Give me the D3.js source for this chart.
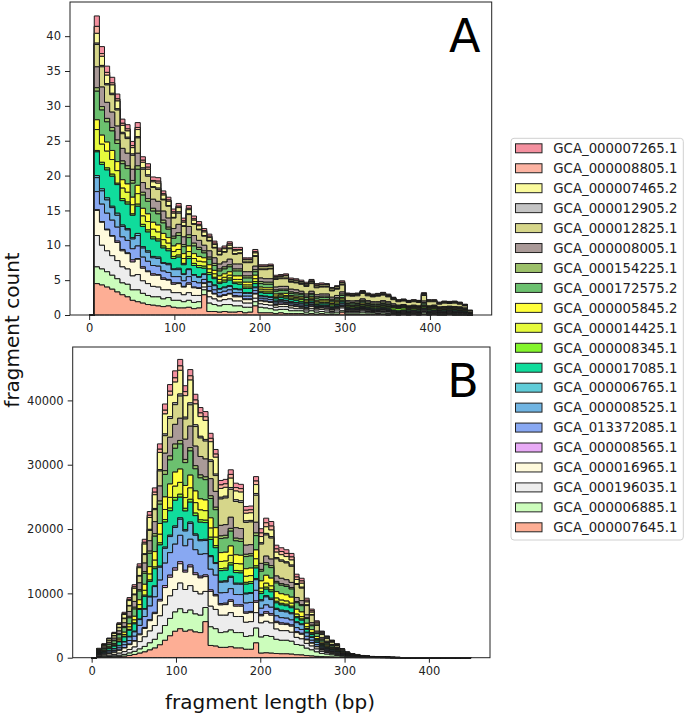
<!DOCTYPE html>
<html>
<head>
<meta charset="utf-8">
<script src="https://cdn.jsdelivr.net/npm/d3@7"></script>
<style>
body { margin: 0; background: #fff; }
svg { font-family: "DejaVu Sans", sans-serif; }
</style>
</head>
<body>
<div id="chart"></div>
<script>
// legend order = top of the stack first
var names = ["GCA_000007265.1", "GCA_000008805.1", "GCA_000007465.2", "GCA_000012905.2",
    "GCA_000012825.1", "GCA_000008005.1", "GCA_000154225.1", "GCA_000172575.2",
    "GCA_000005845.2", "GCA_000014425.1", "GCA_000008345.1", "GCA_000017085.1",
    "GCA_000006765.1", "GCA_000008525.1", "GCA_013372085.1", "GCA_000008565.1",
    "GCA_000016965.1", "GCA_000196035.1", "GCA_000006885.1", "GCA_000007645.1"];

var colors = ["#f4909f", "#fcb3a2", "#fafa9c", "#c4c4c4", "#d6d68a", "#aa9a98",
    "#9cc06a", "#6cc06f", "#ffff3a", "#e6fa3c", "#84f52c", "#10dc9c",
    "#60ccd8", "#70b4e2", "#88a8f2", "#e8aaf6", "#fffadc", "#ededed",
    "#ccfdbc", "#fdae95"];

// histogram bins: 6 bp wide, 0..450
var binWidth = 6;
var binEdges = d3.range(0, 450 + binWidth, binWidth);

var xTicks = [0, 100, 200, 300, 400];
var yTicksA = [0, 5, 10, 15, 20, 25, 30, 35, 40];
var yTicksB = [0, 10000, 20000, 30000, 40000];

// ---- panel A: fragment counts per bin ----
var a7265 = [0,
 1.5,1.0,0.9,0.8,0.7,0.6,0.6,0.6,0.7,0.5, 0.5,0.5,0.5,0.4,0.4,0.4,0.4,0.4,0.4,0.4,
 0.4,0.3,0.3,0.3,0.3,0.3,0.3,0.3,0.3,0.2, 0.2,0.3,0.2,0.2,0.2,0.2,0.2,0.2,0.2,0.2,
 0.2,0.2,0.2,0.2,0.2,0.1,0.1,0.1,0.2,0.1, 0.1,0.1,0.1,0.1,0.1,0.1,0.1,0.1,0.1,0.1,
 0.1,0.1,0.1,0.1,0.1,0.1,0.1,0.1,0.1,0.1, 0.1,0.1,0.05,0.05];
var a8805 = [0,
 1.0,0.4,0.4,0.3,0.3,0.3,0.3,0.3,0.3,0.3, 0.3,0.2,0.3,0.2,0.2,0.2,0.2,0.2,0.2,0.2,
 0.2,0.2,0.2,0.2,0.2,0.1,0.2,0.2,0.1,0.1, 0.1,0.2,0.1,0.1,0.1,0.1,0.1,0.1,0.1,0.1,
 0.1,0.1,0.1,0.1,0.1,0.1,0.1,0.1,0.1,0.1, 0.1,0.1,0.1,0.1,0.1,0.1,0.1,0.1,0.05,0.05,
 0.05,0.05,0.05,0.05,0.1,0.05,0.05,0.05,0.05,0.05, 0.05,0.05,0.05,0];
var a7465 = [0,
 1.4,1.3,1.2,1.2,1.1,1.0,0.9,0.9,1.0,0.8, 0.8,0.7,0.7,0.6,0.6,0.6,0.6,0.5,0.6,0.5,
 0.5,0.5,0.4,0.4,0.4,0.4,0.4,0.4,0.4,0.3, 0.3,0.4,0.3,0.3,0.3,0.2,0.2,0.3,0.2,0.2,
 0.2,0.2,0.2,0.2,0.2,0.2,0.2,0.2,0.2,0.1, 0.1,0.1,0.1,0.1,0.1,0.1,0.1,0.1,0.1,0.1,
 0.1,0.1,0.1,0.1,0.1,0.1,0.1,0.1,0.1,0.1, 0.1,0.1,0.1,0.05];
var a12905 = [0,
 0.2,0.2,0.2,0.2,0.2,0.2,0.2,0.2,0.2,0.2, 0.2,0.1,0.2,0.1,0.1,0.1,0.2,0.1,0.1,0.1,
 0.1,0.1,0.1,0.1,0.1,0.1,0.1,0.1,0.1,0.1, 0.1,0.1,0.1,0.1,0.1,0.1,0.1,0.1,0.1,0.1,
 0.1,0.1,0.1,0.1,0.1,0.1,0.1,0.1,0.1,0.1, 0.1,0.1,0.1,0.1,0.1,0.1,0.1,0.1,0.1,0.05,
 0.05,0.05,0.05,0.05,0.1,0.05,0.05,0.05,0.05,0.05, 0.05,0.05,0.05,0.05];
var a12825 = [0,
 3.2,2.9,2.5,2.5,2.3,2.1,2.1,2.0,2.2,1.9, 1.8,1.7,1.7,1.6,1.7,1.5,1.6,1.5,1.7,1.6,
 1.5,1.3,1.4,1.4,1.3,1.4,1.5,1.4,1.5,1.3, 1.3,1.4,1.2,1.3,1.4,1.1,1.1,1.1,1.0,1.0,
 1.0,1.1,1.1,1.0,1.0,1.0,0.9,0.9,1.0,0.7, 0.7,0.7,0.8,0.7,0.7,0.8,0.8,0.7,0.6,0.5,
 0.5,0.5,0.5,0.5,0.8,0.6,0.5,0.4,0.5,0.4, 0.5,0.4,0.3,0.2];
var a8005 = [0,
 3.0,2.8,2.3,2.2,2.0,1.8,1.8,1.6,1.8,1.4, 1.4,1.3,1.4,1.3,1.3,1.1,1.2,1.1,1.2,1.1,
 1.0,0.8,0.9,0.8,0.7,0.7,0.8,0.7,0.7,0.6, 0.6,0.5,0.5,0.5,0.5,0.4,0.4,0.4,0.4,0.4,
 0.3,0.3,0.3,0.3,0.3,0.3,0.3,0.3,0.3,0.2, 0.2,0.2,0.2,0.2,0.2,0.2,0.2,0.2,0.2,0.1,
 0.1,0.1,0.1,0.1,0.2,0.1,0.1,0.1,0.1,0.1, 0.1,0.1,0.1,0.05];
var a154225 = [0,
 0.5,0.5,0.5,0.5,0.5,0.4,0.4,0.4,0.5,0.4, 0.4,0.4,0.4,0.4,0.3,0.3,0.4,0.3,0.4,0.4,
 0.3,0.3,0.3,0.3,0.3,0.3,0.3,0.3,0.3,0.3, 0.3,0.3,0.3,0.3,0.3,0.2,0.2,0.2,0.2,0.2,
 0.2,0.2,0.2,0.2,0.2,0.2,0.2,0.2,0.2,0.2, 0.2,0.2,0.2,0.2,0.2,0.2,0.2,0.2,0.1,0.1,
 0.1,0.1,0.1,0.1,0.2,0.1,0.1,0.1,0.1,0.1, 0.1,0.1,0.1,0.05];
var a172575 = [0,
 4.1,3.6,2.9,2.8,2.6,2.3,2.2,2.0,2.3,1.9, 1.8,1.6,1.6,1.5,1.2,1.1,1.2,1.0,1.2,1.1,
 1.0,0.7,0.8,0.7,0.7,0.7,0.7,0.7,0.7,0.6, 0.6,0.5,0.5,0.5,0.5,0.4,0.4,0.4,0.3,0.3,
 0.3,0.3,0.3,0.3,0.3,0.3,0.2,0.2,0.3,0.2, 0.2,0.2,0.2,0.2,0.2,0.2,0.2,0.2,0.1,0.1,
 0.1,0.1,0.1,0.1,0.2,0.1,0.1,0.1,0.1,0.1, 0.1,0.1,0.1,0.05];
var a5845 = [0,
 1.4,1.3,1.3,1.3,1.3,1.2,1.2,1.1,1.2,1.1, 1.1,1.0,1.0,0.9,0.8,0.8,0.8,0.7,0.8,0.7,
 0.7,0.6,0.6,0.5,0.5,0.5,0.5,0.5,0.5,0.4, 0.4,0.5,0.3,0.3,0.3,0.3,0.2,0.3,0.2,0.2,
 0.2,0.2,0.2,0.2,0.2,0.2,0.2,0.2,0.2,0.1, 0.1,0.1,0.2,0.1,0.1,0.1,0.1,0.1,0.1,0.1,
 0.1,0.1,0.1,0.1,0.1,0.1,0.1,0.1,0.1,0.1, 0.1,0.1,0.1,0.05];
var a14425 = [0,
 3.0,2.6,2.4,2.1,1.8,1.5,1.4,1.3,1.5,1.2, 1.2,1.1,1.0,0.9,0.8,0.7,0.8,0.7,0.7,0.7,
 0.6,0.6,0.5,0.5,0.4,0.4,0.4,0.4,0.4,0.3, 0.3,0.4,0.3,0.3,0.3,0.2,0.2,0.2,0.2,0.2,
 0.2,0.2,0.2,0.2,0.2,0.2,0.2,0.2,0.2,0.1, 0.1,0.1,0.1,0.1,0.1,0.1,0.1,0.1,0.1,0.1,
 0.1,0.1,0.1,0.1,0.1,0.1,0.1,0.1,0.1,0.1, 0.1,0.1,0.05,0.05];
var a8345 = [0,
 0.2,0.3,0.3,0.3,0.2,0.3,0.3,0.2,0.3,0.3, 0.3,0.3,0.3,0.3,0.3,0.3,0.3,0.2,0.3,0.3,
 0.3,0.3,0.3,0.2,0.2,0.3,0.3,0.2,0.3,0.2, 0.2,0.3,0.2,0.2,0.2,0.2,0.2,0.2,0.2,0.2,
 0.3,0.2,0.2,0.2,0.2,0.2,0.2,0.2,0.2,0.2, 0.2,0.2,0.2,0.2,0.2,0.2,0.2,0.2,0.3,0.3,
 0.3,0.2,0.2,0.2,0.2,0.2,0.2,0.1,0.1,0.1, 0.1,0.1,0.1,0.1];
var a17085 = [0,
 3.4,3.5,4.0,4.3,4.1,3.5,3.5,3.2,3.9,2.9, 2.7,2.5,2.3,2.1,1.8,1.5,1.6,1.3,1.5,1.3,
 1.3,0.8,1.0,0.9,0.7,0.7,0.8,0.7,0.7,0.6, 0.6,0.5,0.4,0.4,0.5,0.3,0.3,0.3,0.3,0.3,
 0.2,0.2,0.2,0.2,0.2,0.2,0.2,0.2,0.2,0.1, 0.1,0.1,0.1,0.1,0.1,0.1,0.1,0.1,0.1,0.1,
 0.1,0.1,0.1,0.1,0.1,0.1,0.1,0.05,0.1,0.05, 0.1,0.05,0.05,0];
var a6765 = [0,
 0.3,0.3,0.3,0.2,0.3,0.2,0.2,0.2,0.3,0.2, 0.2,0.2,0.2,0.1,0.2,0.1,0.2,0.1,0.1,0.1,
 0.1,0.1,0.1,0.1,0.1,0.1,0.1,0.1,0.1,0.1, 0.1,0.1,0.1,0.1,0.1,0.1,0.1,0.1,0.1,0.1,
 0.1,0.1,0.1,0.1,0.1,0.1,0.05,0.1,0.1,0.05, 0.05,0.05,0.05,0.05,0.05,0.05,0.05,0.05,0.05,0.05,
 0.05,0.05,0.05,0.05,0.05,0.05,0.05,0.05,0.05,0.05, 0.05,0.05,0.05,0];
var a8525 = [0,
 2.0,1.9,1.9,1.8,1.7,1.5,1.5,1.4,1.5,1.3, 1.3,1.1,1.1,1.1,1.1,1.0,1.0,0.9,1.0,0.9,
 0.8,0.7,0.6,0.6,0.5,0.5,0.5,0.5,0.4,0.4, 0.4,0.4,0.3,0.3,0.3,0.2,0.2,0.2,0.2,0.2,
 0.2,0.2,0.2,0.1,0.1,0.1,0.1,0.1,0.2,0.1, 0.1,0.1,0.1,0.1,0.1,0.1,0.1,0.1,0.05,0.05,
 0.05,0.05,0.05,0.05,0.1,0.05,0.05,0.05,0.05,0.05, 0.05,0.05,0.05,0];
var a13372085 = [0,
 2.6,2.5,2.3,2.2,2.0,1.8,1.8,1.6,1.8,1.4, 1.4,1.2,1.2,1.0,1.0,0.9,0.9,0.8,0.9,0.8,
 0.7,0.5,0.6,0.5,0.5,0.5,0.5,0.4,0.5,0.4, 0.4,0.4,0.3,0.3,0.3,0.2,0.2,0.2,0.2,0.2,
 0.2,0.1,0.2,0.1,0.1,0.1,0.1,0.1,0.1,0.1, 0.1,0.1,0.1,0.1,0.1,0.1,0.1,0.1,0.05,0.05,
 0.05,0.05,0.05,0.05,0.1,0.05,0.05,0.05,0.05,0.05, 0.05,0.05,0.05,0];
var a8565 = [0,
 0.1,0.1,0.1,0.1,0.2,0.2,0.1,0.3,0.1,0.2, 0.1,0.2,0.1,0.2,0.1,0.2,0.1,0.1,0.2,0.1,
 0.1,0.1,0.1,0.1,0.1,0.1,0.1,0.2,0.1,0.1, 0.1,0.1,0.1,0.1,0.1,0.1,0.2,0.1,0.1,0.1,
 0.1,0.1,0.1,0.1,0.1,0.2,0.1,0.1,0.1,0.1, 0.05,0.1,0.05,0.1,0.05,0.05,0.1,0.05,0.05,0.05,
 0.05,0.05,0.05,0.05,0.05,0.05,0.05,0.05,0.05,0.05, 0.05,0.05,0.05,0];
var a16965 = [0,
 3.6,3.3,3.0,2.8,2.6,2.3,2.2,2.0,2.2,1.8, 1.7,1.6,1.7,1.5,1.4,1.2,1.3,1.1,1.2,1.1,
 1.0,0.5,0.8,0.7,0.6,0.6,0.7,0.6,0.6,0.5, 0.5,0.6,0.4,0.4,0.4,0.3,0.3,0.3,0.3,0.3,
 0.2,0.2,0.3,0.2,0.2,0.2,0.2,0.2,0.2,0.1, 0.1,0.1,0.2,0.1,0.1,0.1,0.1,0.1,0.1,0.1,
 0.1,0.1,0.1,0.1,0.1,0.1,0.1,0.1,0.1,0.1, 0.1,0.1,0,0];
var a196035 = [0,
 4.5,3.4,3.0,2.8,2.6,2.3,2.2,2.0,2.2,1.8, 1.7,1.5,1.4,1.3,1.1,1.1,1.1,1.0,1.1,1.0,
 0.9,0.4,0.9,0.8,0.7,0.7,0.8,0.7,0.7,0.6, 0.6,0.5,0.5,0.5,0.5,0.4,0.4,0.4,0.4,0.3,
 0.3,0.3,0.3,0.3,0.3,0.3,0.2,0.3,0.4,0.2, 0.2,0.2,0.2,0.2,0.1,0.2,0.2,0.2,0.1,0.1,
 0.1,0.1,0.1,0.1,0.2,0.1,0.1,0.1,0.1,0.1, 0.1,0.1,0.1,0];
var a6885 = [0,
 2.4,2.3,2.2,2.0,1.9,1.7,1.8,1.5,1.7,1.4, 1.3,1.2,1.3,1.1,1.2,1.0,1.1,0.9,1.0,0.9,
 0.9,0.7,1.2,1.0,0.9,1.0,1.1,0.9,0.8,0.8, 0.7,0.6,0.8,0.7,0.6,0.5,0.5,0.6,0.4,0.4,
 0.4,0.3,0.4,0.3,0.3,0.3,0.2,0.3,0.2,0.2, 0.2,0.2,0.3,0.2,0.2,0.1,0.2,0.2,0.1,0.1,
 0.1,0.1,0.1,0.1,0.2,0.1,0.1,0.1,0.1,0.1, 0.1,0.1,0.1,0];
var a7645 = [0,
 4.5,4.3,4.0,3.7,3.3,2.9,2.6,2.1,1.9,1.7, 1.5,1.4,1.3,1.2,1.3,1.1,1.0,1.0,1.1,0.9,
 1.0,2.9,0.5,0.5,0.4,0.5,0.4,0.4,0.5,0.3, 0.4,1.3,0.3,0.3,0.3,0.2,0.3,0.2,0.2,0.2,
 0.2,0.1,0.2,0.1,0.2,0.1,0.1,0.1,0.4,0.1, 0.1,0.1,0.1,0.1,0.1,0.1,0.1,0,0.1,0,
 0.1,0,0.1,0,0.1,0,0.1,0,0,0.1, 0,0,0,0];

// ---- panel B: fragment counts per bin ----
var b7265 = [0, 45,65,95,120,165,215,280,340, 380,470,580,670,830,970,1040,1090,
 1010,920,970,890,840,810,780,720, 690,690,720,680,670,590,590,690,
 660,720,710,580,580,570,550,440,420,320,260,200,
 130,105,85,67,44,28,20,16,11,8,6,5,3,2,2,1,1,1,0,0,0,0,0,0,0,0,0,0,0,0];
var b8805 = [0, 30,45,60,80,110,140,190,230, 230,280,350,400,500,580,620,660,
 690,630,660,610,570,560,530,490, 550,550,580,540,540,470,470,550,
 560,620,610,500,500,490,470,380,360,270,220,170,
 130,105,85,67,44,28,20,16,11,8,6,5,3,2,2,1,1,1,0,0,0,0,0,0,0,0,0,0,0,0];
var b7465 = [0, 120,180,250,320,440,570,750,900, 1200,1500,1840,2130,2660,3110,3330,3200,
 3680,3340,3540,3240,3060,2960,2830,2620, 1370,1380,1450,1360,1350,1180,1180,1380,
 940,1030,1020,840,830,810,790,630,610,450,370,280,
 170,140,115,90,58,37,27,21,14,10,8,6,4,3,2,2,1,1,1,0,0,0,0,0,0,0,0,0,0,0];
var b12905 = [0, 15,22,31,40,55,71,94,113, 105,130,160,190,230,270,290,310,
 320,290,310,280,270,260,250,230, 270,280,290,270,270,240,240,280,
 230,250,240,200,200,190,190,150,150,110,90,70,
 86,70,57,45,29,19,13,10,7,5,4,3,2,2,1,1,1,0,0,0,0,0,0,0,0,0,0,0,0,0];
var b12825 = [0, 135,200,280,360,500,640,850,1020, 1050,1320,1610,1860,2330,2720,2910,3060,
 3450,3140,3320,3040,2870,2780,2660,2460, 4100,4140,4340,4070,4040,3540,3530,4200,
 3000,3280,3260,2670,2640,2600,2510,2020,1940,1440,1180,900,
 520,420,340,270,175,110,80,62,43,31,24,18,13,10,7,5,4,2,2,1,1,1,1,0,0,0,0,0,0,0];
var b8005 = [0, 120,180,250,320,440,570,750,900, 1050,1320,1610,1860,2330,2720,2910,3060,
 3450,3140,3320,3040,2870,2780,2660,2460, 1640,1660,1730,1630,1610,1420,1410,1660,
 940,1030,1020,840,830,810,790,630,610,450,370,280,
 215,175,140,110,72,46,33,26,18,13,10,7,5,4,3,2,1,1,1,0,0,0,0,0,0,0,0,0,0,0];
var b154225 = [0, 40,55,80,100,140,180,240,280, 230,280,350,400,500,580,620,660,
 550,500,530,490,460,440,420,390, 410,410,430,410,400,350,350,420,
 280,310,310,250,250,240,240,190,180,140,110,85,
 170,140,115,90,58,37,27,21,14,10,8,6,4,3,2,2,1,1,1,0,0,0,0,0,0,0,0,0,0,0];
var b172575 = [0, 150,220,310,400,550,710,940,1130, 1350,1700,2070,2400,3000,3500,3740,3700,
 3900,3550,3760,3440,3260,3150,3010,2790, 2190,2210,2310,2170,2150,1890,1880,2220,
 1500,1640,1630,1340,1320,1300,1260,1010,970,720,590,450,
 300,245,200,156,100,65,47,36,25,18,14,10,8,6,4,3,2,1,1,1,1,0,0,0,0,0,0,0,0,0];
var b5845 = [0, 75,110,155,200,275,355,470,565, 750,940,1150,1330,1670,1950,2080,2190,
 2070,1880,1990,1820,1720,1670,1590,1480, 1370,1380,1450,1360,1350,1180,1180,1380,
 1130,1230,1220,1000,990,970,940,760,730,540,440,340,
 215,175,140,110,72,46,33,26,18,13,10,7,5,4,3,2,1,1,1,0,0,0,0,0,0,0,0,0,0,0];
var b14425 = [0, 60,90,120,160,220,280,380,450, 600,750,920,1060,1330,1560,1660,1750,
 1840,1670,1770,1620,1530,1480,1420,1310, 1100,1100,1160,1080,1080,940,940,1100,
 560,620,610,500,500,490,470,380,360,270,220,170,
 170,140,115,90,58,37,27,21,14,10,8,6,4,3,2,2,1,1,1,0,0,0,0,0,0,0,0,0,0,0];
var b8345 = [0, 25,35,45,60,80,110,140,170, 150,190,230,270,330,390,420,440,
 460,420,440,400,380,370,350,330, 330,330,350,330,320,280,280,330,
 280,310,300,250,250,240,240,190,180,140,110,85,
 120,100,85,70,48,32,24,18,13,9,7,5,4,3,2,2,1,1,1,0,0,0,0,0,0,0,0,0,0,0];
var b17085 = [0, 150,220,310,400,550,710,940,1130, 1500,1900,2300,2650,3300,3900,3800,4000,
 3200,2900,3100,2850,2700,2600,2500,2300, 1650,1650,1750,1650,1600,1400,1400,1650,
 950,1000,1000,850,820,800,780,630,600,450,370,280,
 215,175,140,110,72,46,33,26,18,13,10,7,5,4,3,2,1,1,1,0,0,0,0,0,0,0,0,0,0,0];
var b6765 = [0, 15,20,30,40,55,70,90,110, 80,100,120,130,170,190,210,220,
 230,210,220,200,190,190,180,160, 160,170,170,160,160,140,140,170,
 190,200,200,170,160,160,160,130,120,90,75,55,
 85,70,57,45,29,19,13,10,7,5,4,3,2,2,1,1,1,0,0,0,0,0,0,0,0,0,0,0,0,0];
var b8525 = [0, 90,130,190,240,330,430,560,680, 900,1130,1400,1600,2000,2300,2500,2600,
 2500,2300,2450,2250,2100,2050,1950,1800, 1650,1650,1750,1600,1600,1400,1400,1650,
 1150,1250,1200,1000,1000,970,950,760,730,540,440,340,
 170,140,115,90,58,37,27,21,14,10,8,6,4,3,2,2,1,1,1,0,0,0,0,0,0,0,0,0,0,0];
var b13372085 = [0, 90,130,190,240,330,430,560,680, 1350,1700,2100,2400,3000,3500,3500,3700,
 4100,3800,4000,3600,3400,3300,3200,3000, 1650,1650,1750,1600,1600,1400,1400,1650,
 950,1050,1000,850,820,800,780,630,600,450,370,280,
 170,140,115,90,58,37,27,21,14,10,8,6,4,3,2,2,1,1,1,0,0,0,0,0,0,0,0,0,0,0];
var b8565 = [0, 15,20,30,40,50,70,80,90, 120,150,180,200,260,300,330,350,
 320,290,310,280,270,260,250,230, 220,220,230,220,210,190,190,220,
 230,250,240,200,200,190,190,150,150,110,90,70,
 80,70,55,45,30,18,13,10,7,5,4,3,2,2,1,1,1,0,0,0,0,0,0,0,0,0,0,0,0,0];
var b16965 = [0, 120,180,250,320,440,570,750,900, 1050,1300,1600,1850,2300,2700,2900,3000,
 3000,2700,2900,2600,2500,2300,2300,2100, 1600,1650,1750,1600,1600,1400,1400,1600,
 1100,1250,1200,1000,1000,950,950,750,720,540,440,330,
 210,170,140,110,70,46,33,26,18,13,10,7,5,4,3,2,1,1,1,0,0,0,0,0,0,0,0,0,0,0];
var b196035 = [0, 90,130,190,240,330,430,560,680, 1150,1500,1850,2150,2700,3200,3500,3500,
 4000,3600,3800,3500,3300,2500,3200,3000, 2700,2600,2700,2500,2500,2200,2200,2400,
 2200,2200,2100,1600,1500,1500,1400,1100,1000,750,600,450,
 320,260,200,160,100,65,47,36,25,18,14,10,8,6,4,3,2,1,1,1,1,0,0,0,0,0,0,0,0,0];
var b6885 = [0, 40,70,100,150,200,280,370,480, 650,850,1100,1350,1800,2300,2700,3000,
 3100,2900,3100,2800,2700,2200,2900,2700, 2300,2400,2600,2400,2400,2000,2100,2300,
 2500,2700,2600,2200,2100,2100,2000,1600,1500,1150,950,700,
 500,420,340,270,180,110,80,60,45,32,24,18,13,10,7,5,4,3,2,2,1,1,1,1,0,0,0,0,0,0];
var b7645 = [0, 40,60,90,120,170,230,350,500, 700,900,1200,1500,2000,2700,3400,4100,
 4500,4100,4300,4000,3900,5600,1900,1800, 1600,1600,1700,1500,1500,1300,1300,2300,
 700,750,700,650,600,600,550,450,420,320,260,200,
 160,130,100,80,55,35,25,20,14,10,8,6,4,3,2,2,1,1,1,0,0,0,0,0,0,0,0,0,0,0];

// same order as names
var seriesA = [a7265, a8805, a7465, a12905, a12825, a8005, a154225, a172575, a5845, a14425,
    a8345, a17085, a6765, a8525, a13372085, a8565, a16965, a196035, a6885, a7645];
var seriesB = [b7265, b8805, b7465, b12905, b12825, b8005, b154225, b172575, b5845, b14425,
    b8345, b17085, b6765, b8525, b13372085, b8565, b16965, b196035, b6885, b7645];

var svg = d3.select("#chart")
    .append("svg")
        .attr("width", 685)
        .attr("height", 717);

function drawPanel(series, box, yMax, yTicks, letter) {
    var x = d3.scaleLinear().domain([-22.5, 472.5]).range([box.left, box.right]);
    var y = d3.scaleLinear().domain([0, yMax]).range([box.bottom, box.top]);

    // rows per bin, plus a closing row at the last edge
    var rows = binEdges.map(function(edge, i) {
        var row = { edge: edge };
        var j = Math.min(i, binEdges.length - 2);
        names.forEach(function(n, k) { row[n] = series[k][j] || 0; });
        return row;
    });

    var keys = names.slice().reverse();   // bottom of stack first
    var stacked = d3.stack().keys(keys)(rows);

    var area = d3.area()
        .curve(d3.curveStepAfter)
        .x(function(d) { return x(d.data.edge); })
        .y0(function(d) { return y(d[0]); })
        .y1(function(d) { return y(d[1]); });

    var g = svg.append("g");

    g.selectAll("path.layer")
        .data(stacked.slice().reverse())
        .enter()
        .append("path")
            .attr("class", "layer")
            .attr("d", area)
            .attr("fill", function(d) { return colors[names.indexOf(d.key)]; })
            .attr("stroke", "#1c1c1c")
            .attr("stroke-width", 1)
            .attr("stroke-linejoin", "miter");

    // Y Axis
    var yAxis = g.append("g")
        .attr("transform", "translate(" + box.left + ",0)")
        .call(d3.axisLeft(y).tickValues(yTicks).tickFormat(d3.format("d")).tickSize(5).tickPadding(4));

    // X Axis
    var xAxis = g.append("g")
        .attr("transform", "translate(0," + box.bottom + ")")
        .call(d3.axisBottom(x).tickValues(xTicks).tickFormat(d3.format("d")).tickSize(5).tickPadding(4));

    [yAxis, xAxis].forEach(function(a) {
        a.select(".domain").remove();
        a.selectAll("line").attr("stroke", "#222");
        a.selectAll("text")
            .attr("font-size", "11.5px")
            .attr("fill", "#222")
            .attr("font-family", "DejaVu Sans, sans-serif");
    });

    // frame
    g.append("rect")
        .attr("x", box.left)
        .attr("y", box.top)
        .attr("width", box.right - box.left)
        .attr("height", box.bottom - box.top)
        .attr("fill", "none")
        .attr("stroke", "#222")
        .attr("stroke-width", 1);

    // panel letter
    g.append("text")
        .attr("x", box.right - 27)
        .attr("y", box.top + 50)
        .attr("text-anchor", "middle")
        .attr("font-size", "46px")
        .attr("fill", "#000")
        .text(letter);
}

drawPanel(seriesA, { left: 70, right: 491.7, top: 2, bottom: 315 }, 44.9, yTicksA, "A");
drawPanel(seriesB, { left: 72.7, right: 490, top: 347, bottom: 657.7 }, 48300, yTicksB, "B");

// Y Label
svg.append("text")
    .attr("transform", "translate(19,330) rotate(-90)")
    .attr("text-anchor", "middle")
    .attr("font-size", "20px")
    .attr("fill", "#111")
    .text("fragment count");

// X Label
svg.append("text")
    .attr("x", 270)
    .attr("y", 709)
    .attr("text-anchor", "middle")
    .attr("font-size", "20px")
    .attr("fill", "#111")
    .text("fragment length (bp)");

// Legend
var legendRow = d3.scaleLinear().domain([0, names.length - 1]).range([148.3, 527.3]);

var legend = svg.append("g");

legend.append("rect")
    .attr("x", 511)
    .attr("y", 138.3)
    .attr("width", 172.3)
    .attr("height", 401.7)
    .attr("rx", 3)
    .attr("fill", "#fff")
    .attr("stroke", "#d0d0d0")
    .attr("stroke-width", 1);

var items = legend.selectAll("g.item")
    .data(names)
    .enter()
    .append("g")
        .attr("class", "item")
        .attr("transform", function(d, i) { return "translate(0," + legendRow(i) + ")"; });

items.append("rect")
    .attr("x", 515.5)
    .attr("y", -4.5)
    .attr("width", 26.5)
    .attr("height", 9)
    .attr("fill", function(d, i) { return colors[i]; })
    .attr("stroke", "#222")
    .attr("stroke-width", 1);

items.append("text")
    .attr("x", 553.3)
    .attr("dy", "0.36em")
    .attr("font-size", "13.3px")
    .attr("fill", "#222")
    .text(function(d) { return d; });
</script>
</blockquote>
</body>
</html>
